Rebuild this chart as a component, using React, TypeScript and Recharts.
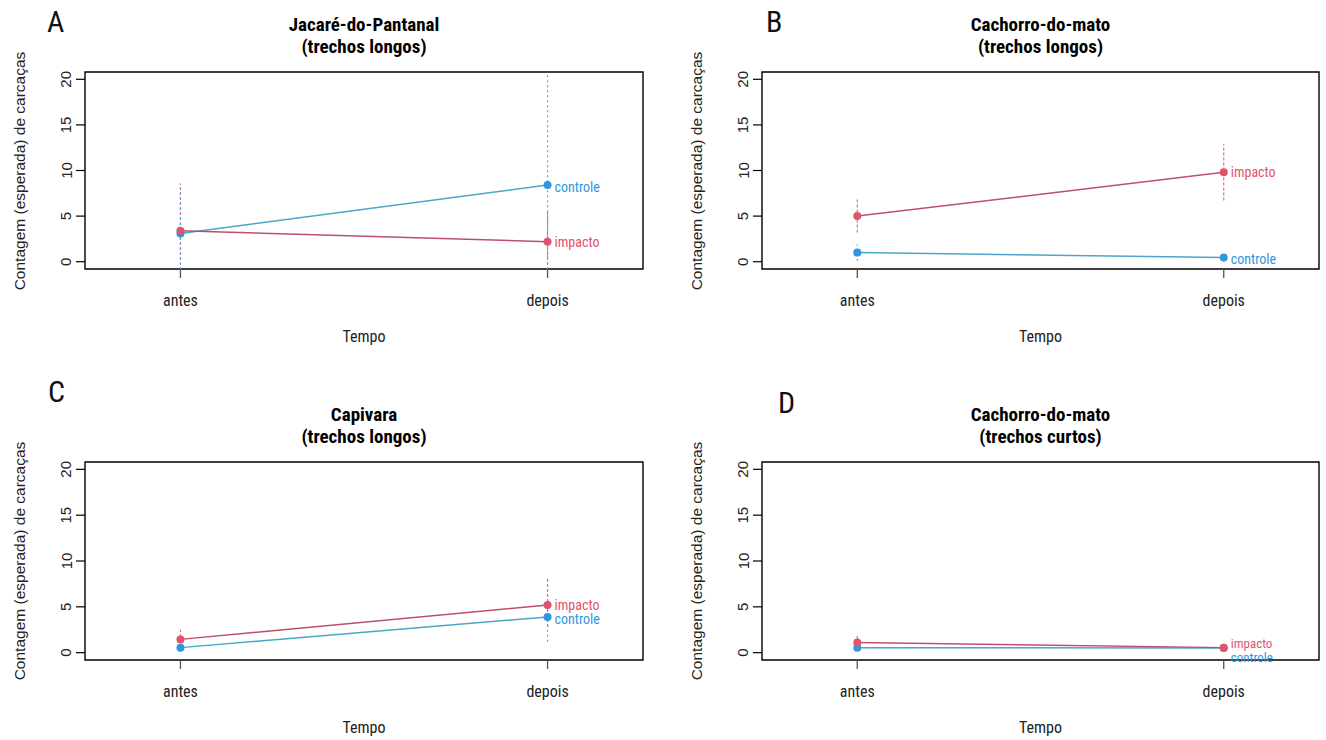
import React from 'react';
import { ComposedChart, Line, XAxis, YAxis, ReferenceArea, ReferenceLine, ReferenceDot } from 'recharts';

// ---- data ----
const periods = ['antes', 'depois'];
const xPos = [1, 2];
const yTicks = [0, 5, 10, 15, 20];

const titlesA = ['Jacaré-do-Pantanal', '(trechos longos)'];
const impactoA = [3.4, 2.2];
const impLoA = [-2, -2];
const impHiA = [8.6, 5.6];
const controleA = [3.1, 8.4];
const ctlLoA = [-2, 0.5];
const ctlHiA = [7.9, 25];
const labelYA = { impacto: 2.2, controle: 8.2 };

const titlesB = ['Cachorro-do-mato', '(trechos longos)'];
const impactoB = [5.0, 9.8];
const impLoB = [3.2, 6.7];
const impHiB = [6.9, 12.9];
const controleB = [1.0, 0.45];
const ctlLoB = [0.1, 0.0];
const ctlHiB = [1.9, 1.0];
const labelYB = { impacto: 9.8, controle: 0.3 };

const titlesC = ['Capivara', '(trechos longos)'];
const impactoC = [1.45, 5.2];
const impLoC = [0.6, 2.8];
const impHiC = [2.5, 8.2];
const controleC = [0.55, 3.9];
const ctlLoC = [0.1, 1.2];
const ctlHiC = [1.1, 6.6];
const labelYC = { impacto: 5.2, controle: 3.7 };

const titlesD = ['Cachorro-do-mato', '(trechos curtos)'];
const impactoD = [1.1, 0.55];
const impLoD = [0.4, 0.1];
const impHiD = [2.0, 1.0];
const controleD = [0.55, 0.5];
const ctlLoD = [0.2, 0.1];
const ctlHiD = [0.9, 0.9];
const labelYD = { impacto: 1.05, controle: -0.55 };

const X_DOMAIN: [number, number] = [0.74, 2.26];
const Y_DOMAIN: [number, number] = [-0.8, 20.8];

const IMP_DOT = '#DF536B';
const IMP_LINE = '#BF4E69';
const IMP_CI = '#D9708A';
const CTL_DOT = '#2E97DD';
const CTL_LINE = '#4BA6C9';
const CTL_CI = '#4FA8DD';

const NARROW = "'Liberation Sans Narrow', 'Roboto Condensed', 'Liberation Sans', sans-serif";
const SANS = "'Liberation Sans', Arial, sans-serif";

const W = 663;
const H = 370;
const Y_AXIS_W = 40;
const X_AXIS_H = 30;

type PanelProps = {
  left: number;
  top: number;
  letter: string;
  letterX: number;
  letterY: number;
  titles: string[];
  margin: { top: number; right: number; bottom: number; left: number };
  impacto: number[];
  impLo: number[];
  impHi: number[];
  controle: number[];
  ctlLo: number[];
  ctlHi: number[];
  labelY: { impacto: number; controle: number };
  labelSize: number;
};

function Panel(p: PanelProps) {
  const plotLeft = p.margin.left + Y_AXIS_W;
  const plotRight = W - p.margin.right;
  const plotTop = p.margin.top;
  const plotBottom = H - p.margin.bottom - X_AXIS_H;
  const cx = (plotLeft + plotRight) / 2;
  const cy = (plotTop + plotBottom) / 2;

  const data = xPos.map((x, i) => ({
    x,
    name: periods[i],
    impacto: p.impacto[i],
    controle: p.controle[i],
  }));

  const YTick = (props: any) => {
    const { y, payload } = props;
    const tx = plotLeft - 19;
    return (
      <text
        x={tx}
        y={y}
        transform={`rotate(-90, ${tx}, ${y})`}
        textAnchor="middle"
        dominantBaseline="central"
        fontFamily={SANS}
        fontSize={15}
        fill="#222"
      >
        {payload.value}
      </text>
    );
  };

  const XTick = (props: any) => {
    const { x, payload } = props;
    const idx = xPos.indexOf(payload.value);
    return (
      <text
        x={x}
        y={plotBottom + 31}
        textAnchor="middle"
        dominantBaseline="central"
        fontFamily={NARROW}
        fontSize={16}
        fill="#222"
      >
        {periods[idx]}
      </text>
    );
  };

  const makeDot = (color: string) => (props: any) => (
    <circle key={`d-${props.index}`} cx={props.cx} cy={props.cy} r={4} fill={color} stroke="none" />
  );

  return (
    <div style={{ position: 'absolute', left: p.left, top: p.top, width: W, height: H }}>
      <ComposedChart width={W} height={H} data={data} margin={p.margin}>
        <XAxis
          type="number"
          dataKey="x"
          domain={X_DOMAIN}
          ticks={xPos}
          allowDataOverflow
          height={X_AXIS_H}
          axisLine={false}
          tickSize={9}
          tickLine={{ stroke: '#555', strokeWidth: 1.3 }}
          tick={<XTick />}
        />
        <YAxis
          type="number"
          domain={Y_DOMAIN}
          ticks={yTicks}
          allowDataOverflow
          width={Y_AXIS_W}
          axisLine={false}
          tickSize={9}
          tickLine={{ stroke: '#000', strokeWidth: 1.2 }}
          tick={<YTick />}
        />
        {xPos.map((x, i) => (
          <ReferenceLine
            key={`ci-imp-${i}`}
            segment={[{ x, y: p.impLo[i] }, { x, y: p.impHi[i] }]}
            stroke={IMP_CI}
            strokeWidth={1.2}
            strokeDasharray="3 2"
            ifOverflow="hidden"
          />
        ))}
        {xPos.map((x, i) => (
          <ReferenceLine
            key={`ci-ctl-${i}`}
            segment={[{ x, y: p.ctlLo[i] }, { x, y: p.ctlHi[i] }]}
            stroke={CTL_CI}
            strokeWidth={1.2}
            strokeDasharray="2 3"
            ifOverflow="hidden"
          />
        ))}
        <Line
          type="linear"
          dataKey="controle"
          stroke={CTL_LINE}
          strokeWidth={1.5}
          dot={makeDot(CTL_DOT)}
          activeDot={false}
          isAnimationActive={false}
        />
        <Line
          type="linear"
          dataKey="impacto"
          stroke={IMP_LINE}
          strokeWidth={1.5}
          dot={makeDot(IMP_DOT)}
          activeDot={false}
          isAnimationActive={false}
        />
        <ReferenceDot
          x={xPos[1]}
          y={p.labelY.impacto}
          r={1}
          fill="none"
          stroke="none"
          ifOverflow="visible"
          label={{ value: 'impacto', position: 'right', offset: 6, fill: IMP_DOT, fontSize: p.labelSize, fontFamily: NARROW }}
        />
        <ReferenceDot
          x={xPos[1]}
          y={p.labelY.controle}
          r={1}
          fill="none"
          stroke="none"
          ifOverflow="visible"
          label={{ value: 'controle', position: 'right', offset: 6, fill: CTL_DOT, fontSize: p.labelSize, fontFamily: NARROW }}
        />
        <ReferenceArea
          x1={X_DOMAIN[0]}
          x2={X_DOMAIN[1]}
          y1={Y_DOMAIN[0]}
          y2={Y_DOMAIN[1]}
          fill="none"
          fillOpacity={0}
          stroke="#000"
          strokeWidth={1.4}
          ifOverflow="visible"
        />
      </ComposedChart>

      {/* panel letter */}
      <div
        style={{
          position: 'absolute',
          left: p.letterX,
          top: p.letterY,
          fontFamily: NARROW,
          fontSize: 30,
          lineHeight: '30px',
          color: '#111',
        }}
      >
        {p.letter}
      </div>

      {/* title */}
      {p.titles.map((t, i) => (
        <div
          key={t}
          style={{
            position: 'absolute',
            left: cx - 200,
            width: 400,
            top: plotTop - 47 + i * 22 - 11,
            height: 22,
            lineHeight: '22px',
            textAlign: 'center',
            fontFamily: NARROW,
            fontWeight: 'bold',
            fontSize: 19,
            color: '#000',
          }}
        >
          {t}
        </div>
      ))}

      {/* x axis title */}
      <div
        style={{
          position: 'absolute',
          left: cx - 100,
          width: 200,
          top: plotBottom + 68 - 10,
          height: 20,
          lineHeight: '20px',
          textAlign: 'center',
          fontFamily: NARROW,
          fontSize: 16,
          color: '#222',
        }}
      >
        Tempo
      </div>

      {/* y axis title */}
      <div
        style={{
          position: 'absolute',
          left: plotLeft - 65 - 150,
          top: cy - 10,
          width: 300,
          height: 20,
          lineHeight: '20px',
          textAlign: 'center',
          transform: 'rotate(-90deg)',
          transformOrigin: '150px 10px',
          fontFamily: SANS,
          fontSize: 15.5,
          color: '#222',
          whiteSpace: 'nowrap',
        }}
      >
        Contagem (esperada) de carcaças
      </div>
    </div>
  );
}

export default function App() {
  return (
    <div style={{ position: 'absolute', left: 0, top: 0, width: 1326, height: 740, background: '#fff', overflow: 'hidden' }}>
      <Panel
        left={0}
        top={0}
        letter="A"
        letterX={47}
        letterY={7}
        titles={titlesA}
        margin={{ top: 72, right: 20, bottom: 71, left: 45 }}
        impacto={impactoA}
        impLo={impLoA}
        impHi={impHiA}
        controle={controleA}
        ctlLo={ctlLoA}
        ctlHi={ctlHiA}
        labelY={labelYA}
        labelSize={14}
      />
      <Panel
        left={663}
        top={0}
        letter="B"
        letterX={103}
        letterY={7}
        titles={titlesB}
        margin={{ top: 72, right: 7, bottom: 71, left: 59 }}
        impacto={impactoB}
        impLo={impLoB}
        impHi={impHiB}
        controle={controleB}
        ctlLo={ctlLoB}
        ctlHi={ctlHiB}
        labelY={labelYB}
        labelSize={14}
      />
      <Panel
        left={0}
        top={370}
        letter="C"
        letterX={48}
        letterY={7}
        titles={titlesC}
        margin={{ top: 92, right: 20, bottom: 50, left: 45 }}
        impacto={impactoC}
        impLo={impLoC}
        impHi={impHiC}
        controle={controleC}
        ctlLo={ctlLoC}
        ctlHi={ctlHiC}
        labelY={labelYC}
        labelSize={14}
      />
      <Panel
        left={663}
        top={370}
        letter="D"
        letterX={115}
        letterY={18}
        titles={titlesD}
        margin={{ top: 92, right: 7, bottom: 50, left: 59 }}
        impacto={impactoD}
        impLo={impLoD}
        impHi={impHiD}
        controle={controleD}
        ctlLo={ctlLoD}
        ctlHi={ctlHiD}
        labelY={labelYD}
        labelSize={13}
      />
    </div>
  );
}
